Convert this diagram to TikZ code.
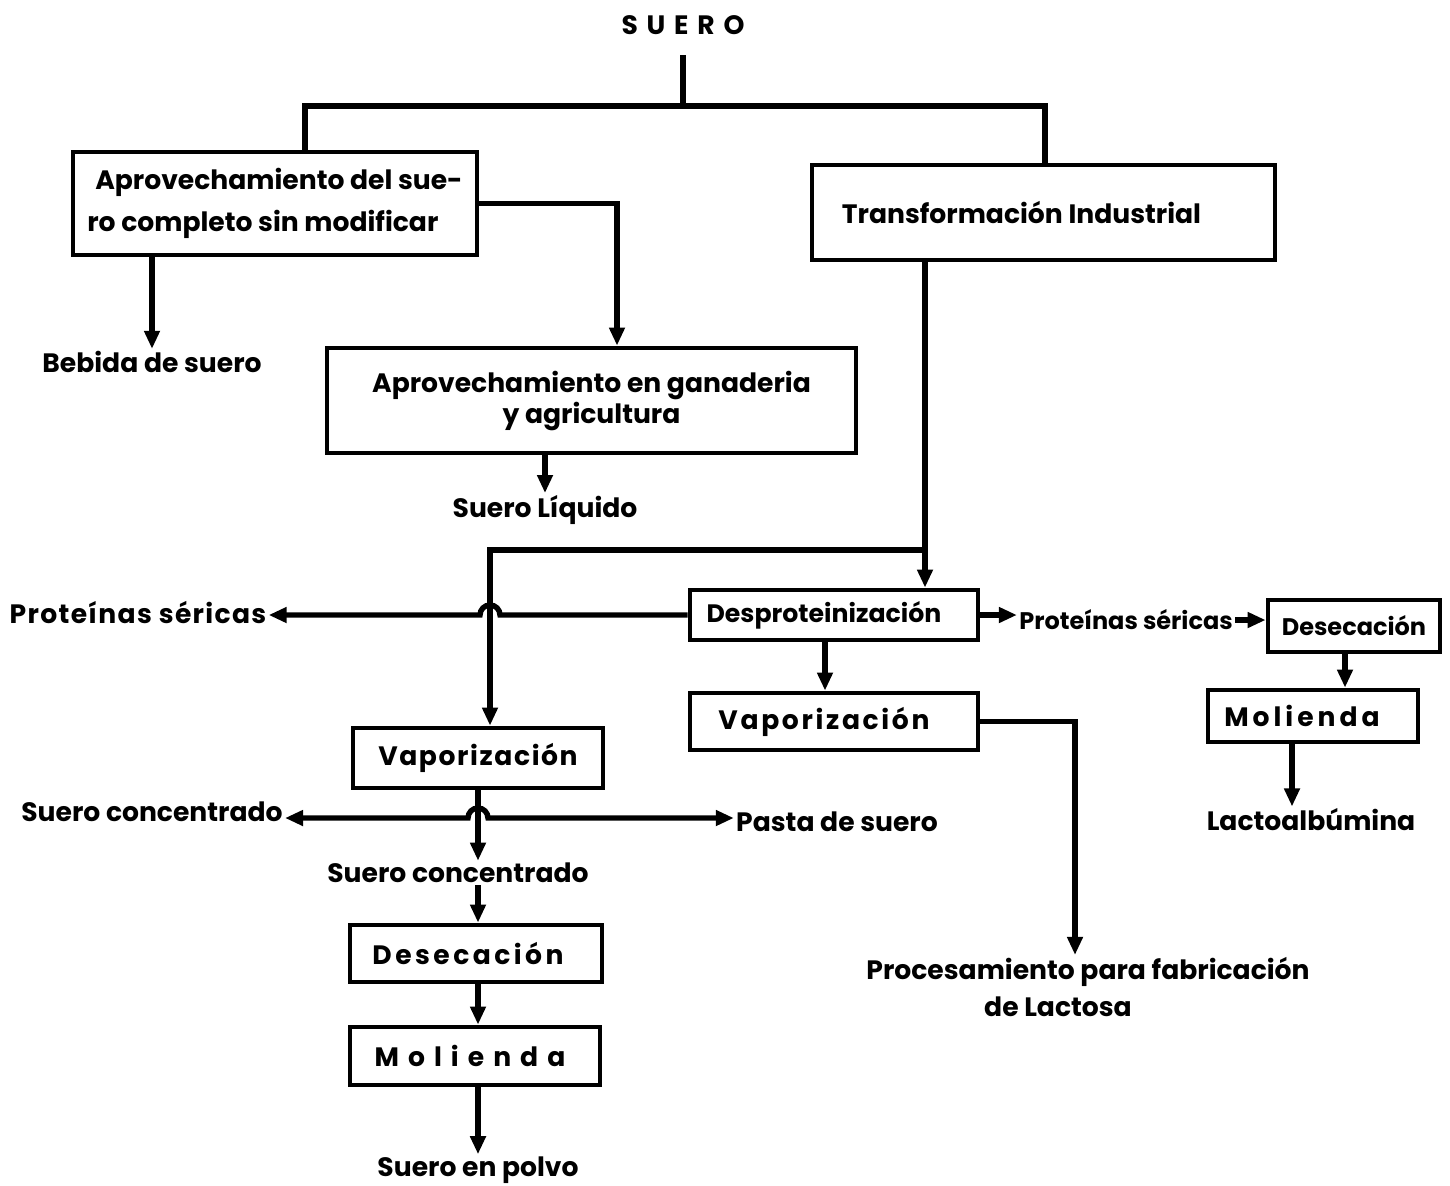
\documentclass[tikz,border=0pt]{standalone}
\usepackage{fontspec}
\setmainfont{Poppins}
\usetikzlibrary{arrows.meta}
\newcommand{\lsp}[1]{\addfontfeatures{LetterSpace=#1}}
\newcommand{\fs}[2]{\bfseries\fontsize{#1}{#2}\selectfont}
\begin{document}
\begin{tikzpicture}[x=0.5pt,y=-0.5pt,
  every node/.style={font=\fs{13.3pt}{16pt}},
  box/.style={draw,line width=2.4pt,inner sep=0pt},
  lab/.style={inner sep=1pt},
  conn/.style={line width=2.7pt},
  arr/.style={conn,-{Triangle[length=9pt,width=7.5pt]}},
  dbl/.style={conn,{Triangle[length=9pt,width=7.5pt]}-{Triangle[length=9pt,width=7.5pt]}}]
\useasboundingbox (0,0) rectangle (1450,1185);

% boxes
\node[box,minimum width=202pt,minimum height=51.5pt,align=left,font=\fs{13.3pt}{21pt}] (b1) at (275,203.5) {\hspace*{4pt}Aprovechamiento del sue-\\ro completo sin modificar};
\node[box,minimum width=231.5pt,minimum height=47.5pt] (b2) at (1043.5,212.5) {Transformación Industrial\hspace*{22pt}};
\node[box,minimum width=264.5pt,minimum height=52.5pt,align=center,font=\fs{13.3pt}{15.5pt}] (b3) at (591.5,400.5) {Aprovechamiento en ganaderia\\y agricultura};
\node[box,minimum width=144pt,minimum height=25pt,font=\fs{12.6pt}{15pt}] (desp) at (834,615) {Desproteinización\hspace*{10pt}};
\node[box,minimum width=144pt,minimum height=28.5pt] (vapR) at (834,721.5) {\lsp{10}Vaporización\hspace*{10pt}};
\node[box,minimum width=86pt,minimum height=26pt,font=\fs{12pt}{15pt}] (desR) at (1354,626) {Desecación};
\node[box,minimum width=105pt,minimum height=26pt] (molR) at (1313,716) {\lsp{15}Molienda\hspace*{11pt}};
\node[box,minimum width=125pt,minimum height=30pt] (vapL) at (478,758) {\lsp{6}Vaporización};
\node[box,minimum width=126pt,minimum height=28.5pt] (desL) at (476,953.5) {\lsp{13}Desecación\hspace*{8pt}};
\node[box,minimum width=125pt,minimum height=29pt] (molL) at (475,1056) {\lsp{34}Molienda\hspace*{5pt}};

% labels
\node[lab] (suero) at (683,25) {\lsp{33}SUERO};
\node[lab] (bebida) at (152,362) {Bebida de suero};
\node[lab] (sliq) at (545,510) {Suero Líquido};
\node[lab] (protL) at (138,612) {\lsp{5}Proteínas séricas};
\node[lab,font=\fs{12pt}{15pt}] (protR) at (1126,620) {Proteínas séricas};
\node[lab] (lacto) at (1311,820) {Lactoalbúmina};
\node[lab,align=center,font=\fs{13.3pt}{18.5pt}] (proc) at (1088,987) {Procesamiento para fabricación\\de Lactosa\hspace*{30pt}};
\node[lab] (concL) at (152,812) {Suero concentrado};
\node[lab] (pasta) at (837,822) {Pasta de suero};
\node[lab] (concM) at (458,873) {Suero concentrado};
\node[lab] (polvo) at (478,1170) {Suero en polvo};

% connectors
\coordinate (stem) at (683,55);
\coordinate (j0) at (683,106);
\draw[conn] (stem) -- (j0);
\draw[conn] ([xshift=15pt]b1.north) |- (j0) -| ([xshift=0.75pt]b2.north);
\draw[arr] (b1.south -| bebida.north) -- (bebida.north);
\draw[arr] (b1.east) -| ([xshift=12.75pt]b3.north);
\draw[arr] (b3.south -| sliq.north) -- (sliq.north);

\coordinate (jx) at (925,550);
\draw[arr] (b2.south -| jx) -- (jx |- desp.north);
\draw[arr] (jx) -| ([xshift=6pt]vapL.north);
\draw[arr] (desp.west) -- (500,615) arc[start angle=0,end angle=180,radius=5pt] -- (protL.east |- desp.west);
\draw[arr] (desp.east) -- (desp.east -| protR.west);
\draw[arr] (protR.east) -- (protR.east -| desR.west);
\draw[arr] ([xshift=-4.5pt]desR.south) -- ([xshift=-4.5pt]desR.south |- molR.north);
\draw[arr] ([xshift=-10.5pt]molR.south) -- ([xshift=-10.5pt]molR.south |- lacto.north);
\draw[arr] ([xshift=-4.5pt]desp.south) -- ([xshift=-4.5pt]desp.south |- vapR.north);
\draw[arr] (vapR.east) -| ([xshift=-6.5pt]proc.north);

\coordinate (hz) at (468,818);
\draw[dbl] (concL.east |- hz) -- (hz) arc[start angle=180,end angle=0,radius=5pt] -- (pasta.west |- hz);
\draw[arr] (vapL.south) -- (vapL.south |- concM.north);
\draw[arr] (concM.south -| vapL.south) -- (vapL.south |- desL.north);
\draw[arr] (desL.south -| vapL.south) -- (vapL.south |- molL.north);
\draw[arr] (molL.south -| vapL.south) -- (vapL.south |- polvo.north);
\end{tikzpicture}
\end{document}
